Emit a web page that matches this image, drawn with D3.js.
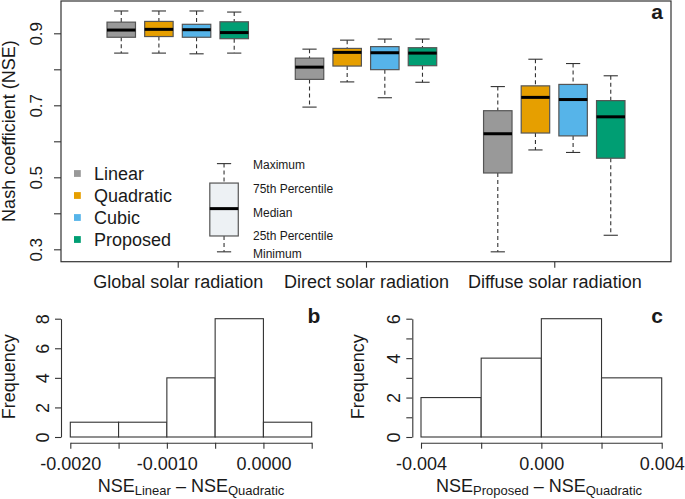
<!DOCTYPE html>
<html>
<head>
<meta charset="utf-8">
<script src="https://cdn.jsdelivr.net/npm/d3@7"></script>
<style>
  body { margin: 0; background: #fff; }
  svg text { font-family: "Liberation Sans", Arial, sans-serif; fill: #1a1a1a; }
</style>
</head>
<body>
<svg id="chart" width="685" height="499"></svg>
<script>
// ---- data ----
const groups = ["Global solar radiation", "Direct solar radiation", "Diffuse solar radiation"];
const methods = ["Linear", "Quadratic", "Cubic", "Proposed"];
// [min, q1, median, q3, max] per method
const globalStats = [
  [0.845, 0.889, 0.909, 0.931, 0.962],
  [0.845, 0.891, 0.911, 0.933, 0.962],
  [0.843, 0.889, 0.910, 0.925, 0.962],
  [0.845, 0.885, 0.902, 0.932, 0.959]
];
const directStats = [
  [0.695, 0.772, 0.806, 0.831, 0.856],
  [0.765, 0.809, 0.847, 0.858, 0.881],
  [0.721, 0.799, 0.846, 0.863, 0.884],
  [0.764, 0.810, 0.845, 0.860, 0.884]
];
const diffuseStats = [
  [0.293, 0.512, 0.621, 0.685, 0.752],
  [0.576, 0.623, 0.722, 0.754, 0.828],
  [0.569, 0.615, 0.716, 0.758, 0.816],
  [0.339, 0.553, 0.668, 0.713, 0.782]
];
const yTicksA = [0.3, 0.4, 0.5, 0.6, 0.7, 0.8, 0.9];
const yLabelsA = [0.3, 0.5, 0.7, 0.9];
const keyBoxStats = [0.293, 0.337, 0.413, 0.484, 0.538];
const keyLabels = ["Maximum", "75th Percentile", "Median", "25th Percentile", "Minimum"];

// histogram b : NSE_Linear - NSE_Quadratic
const edgesB = [-0.002, -0.0015, -0.001, -0.0005, 0, 0.0005];
const countsB = [1, 1, 4, 8, 1];
const xLabelsB = { "-0.002": "-0.0020", "-0.001": "-0.0010", "0": "0.0000" };
const yTicksB = [0, 2, 4, 6, 8];

// histogram c : NSE_Proposed - NSE_Quadratic
const edgesC = [-0.004, -0.002, 0, 0.002, 0.004];
const countsC = [2, 4, 6, 3];
const xLabelsC = { "-0.004": "-0.004", "0": "0.000", "0.004": "0.004" };
const yTicksC = [0, 1, 2, 3, 4, 5, 6];
const yLabelsC = [0, 2, 4, 6];

const colors = ["#999999", "#E69F00", "#56B4E9", "#009E73"];
const axisCol = "#333";

const svg = d3.select("#chart");

// ===== Panel a : boxplots =====
const xA = d3.scaleLinear().domain([-0.6, 15.6]).range([61, 671]);
const yA = d3.scaleLinear().domain([0.3, 0.9]).range([249.3, 33.3]);
const halfW = 0.378;

const allStats = [globalStats, directStats, diffuseStats];
let boxes = [];
allStats.forEach((g, gi) => {
  g.forEach((s, mi) => {
    boxes.push({ pos: gi * 5 + mi + 1, s: s, col: colors[mi] });
  });
});

function drawBox(sel, d, fill) {
  const cx = xA(d.pos);
  const x0 = xA(d.pos - halfW), x1 = xA(d.pos + halfW);
  const capW = (x1 - x0) / 4;
  // whiskers
  sel.append("line").attr("x1", cx).attr("x2", cx)
    .attr("y1", yA(d.s[4])).attr("y2", yA(d.s[3]))
    .attr("stroke", "#333").attr("stroke-width", 1.1).attr("stroke-dasharray", "4,3");
  sel.append("line").attr("x1", cx).attr("x2", cx)
    .attr("y1", yA(d.s[1])).attr("y2", yA(d.s[0]))
    .attr("stroke", "#333").attr("stroke-width", 1.1).attr("stroke-dasharray", "4,3");
  [d.s[0], d.s[4]].forEach(v => {
    sel.append("line").attr("x1", cx - capW).attr("x2", cx + capW)
      .attr("y1", yA(v)).attr("y2", yA(v))
      .attr("stroke", "#333").attr("stroke-width", 1.1);
  });
  sel.append("rect").attr("x", x0).attr("y", yA(d.s[3]))
    .attr("width", x1 - x0).attr("height", yA(d.s[1]) - yA(d.s[3]))
    .attr("fill", fill).attr("stroke", "#555").attr("stroke-width", 1.2);
  sel.append("line").attr("x1", x0).attr("x2", x1)
    .attr("y1", yA(d.s[2])).attr("y2", yA(d.s[2]))
    .attr("stroke", "#000").attr("stroke-width", 3);
}

const boxG = svg.append("g");
boxes.forEach(d => drawBox(boxG.append("g"), d, d.col));

// frame
svg.append("rect").attr("x", 61).attr("y", 1).attr("width", 610).attr("height", 260.7)
  .attr("fill", "none").attr("stroke", axisCol).attr("stroke-width", 1.2);

// y axis
const yAxisA = svg.append("g").attr("transform", "translate(61,0)")
  .call(d3.axisLeft(yA).tickValues(yTicksA).tickSize(7)
    .tickFormat(d => yLabelsA.some(v => Math.abs(v - d) < 1e-9) ? d3.format(".1f")(d) : ""));
yAxisA.select(".domain").remove();
yAxisA.selectAll("line").attr("stroke", axisCol).attr("stroke-width", 1.1);
yAxisA.selectAll("text")
  .attr("x", null).attr("dy", null)
  .attr("text-anchor", "middle")
  .attr("transform", "translate(-19,0) rotate(-90)")
  .style("font-size", "17px");

svg.append("text").attr("transform", "translate(15,131) rotate(-90)")
  .attr("text-anchor", "middle").style("font-size", "18px")
  .text("Nash coefficient (NSE)");

// x axis
const xAxisA = svg.append("g").attr("transform", "translate(0,261.7)")
  .call(d3.axisBottom(xA).tickValues([2.5, 7.5, 12.5]).tickSize(6).tickPadding(7.5)
    .tickFormat((d, i) => groups[i]));
xAxisA.select(".domain").remove();
xAxisA.selectAll("line").attr("stroke", axisCol).attr("stroke-width", 1.1);
xAxisA.selectAll("text").style("font-size", "18px");

// panel label
svg.append("text").attr("x", 657).attr("y", 19).attr("text-anchor", "middle")
  .style("font-size", "21px").style("font-weight", "bold").text("a");

// legend
const legY = [173.5, 195.5, 217.5, 239.5];
methods.forEach((m, i) => {
  svg.append("rect").attr("x", 74).attr("y", legY[i] - 3.4)
    .attr("width", 6.8).attr("height", 6.8).attr("fill", colors[i]);
  svg.append("text").attr("x", 94).attr("y", legY[i] + 6.5)
    .style("font-size", "18px").text(m);
});

// key box
drawBox(svg.append("g"), { pos: 3.73, s: keyBoxStats }, "#edf1f4");
const keyY = [165, 189, 212.3, 236, 254];
keyLabels.forEach((t, i) => {
  svg.append("text").attr("x", 253).attr("y", keyY[i] + 4.3)
    .style("font-size", "12px").text(t);
});

// ===== histograms =====
function hist(edges, counts, xs, ys, yTicks, yLabs, xLabs, axisX, label, labX, subA, subB, titleX, freqX) {
  const g = svg.append("g");
  const bins = counts.map((c, i) => ({ x0: edges[i], x1: edges[i + 1], n: c }));
  g.selectAll("rect").data(bins).enter().append("rect")
    .attr("x", d => xs(d.x0)).attr("width", d => xs(d.x1) - xs(d.x0))
    .attr("y", d => ys(d.n)).attr("height", d => ys(0) - ys(d.n))
    .attr("fill", "#fff").attr("stroke", "#333").attr("stroke-width", 1.1);

  const xa = g.append("g").attr("transform", "translate(0,442.7)")
    .call(d3.axisBottom(xs).tickValues(edges).tickSize(6).tickSizeOuter(0).tickPadding(8.5)
      .tickFormat(d => xLabs[String(+d.toFixed(6))] || ""));
  xa.select(".domain").attr("stroke", axisCol).attr("stroke-width", 1.1);
  xa.selectAll("line").attr("stroke", axisCol).attr("stroke-width", 1.1);
  xa.selectAll("text").style("font-size", "18px");

  const ya = g.append("g").attr("transform", `translate(${axisX},0)`)
    .call(d3.axisLeft(ys).tickValues(yTicks).tickSize(6).tickSizeOuter(0)
      .tickFormat(d => yLabs.includes(d) ? String(d) : ""));
  ya.select(".domain").attr("stroke", axisCol).attr("stroke-width", 1.1);
  ya.selectAll("line").attr("stroke", axisCol).attr("stroke-width", 1.1);
  ya.selectAll("text")
    .attr("x", null).attr("dy", null)
    .attr("text-anchor", "middle")
    .attr("transform", "translate(-12,0) rotate(-90)")
    .style("font-size", "18px");

  g.append("text").attr("transform", `translate(${freqX},376.7) rotate(-90)`)
    .attr("text-anchor", "middle").style("font-size", "18px").text("Frequency");

  const t = g.append("text").attr("x", titleX).attr("y", 491.5)
    .attr("text-anchor", "middle").style("font-size", "18px");
  t.append("tspan").text("NSE");
  t.append("tspan").attr("dy", 3).style("font-size", "13px").text(subA);
  t.append("tspan").attr("dy", -3).text(" \u2013 NSE");
  t.append("tspan").attr("dy", 3).style("font-size", "13px").text(subB);

  g.append("text").attr("x", labX).attr("y", 323).attr("text-anchor", "middle")
    .style("font-size", "21px").style("font-weight", "bold").text(label);
}

const xB = d3.scaleLinear().domain([-0.002, 0.0005]).range([70.3, 311.7]);
const yB = d3.scaleLinear().domain([0, 8]).range([437, 318.7]);
hist(edgesB, countsB, xB, yB, yTicksB, yTicksB, xLabelsB, 61, "b", 314, "Linear", "Quadratic", 191, 15);

const xC = d3.scaleLinear().domain([-0.004, 0.004]).range([421, 661.7]);
const yC = d3.scaleLinear().domain([0, 6]).range([437, 318.7]);
hist(edgesC, countsC, xC, yC, yTicksC, yLabelsC, xLabelsC, 412.3, "c", 657, "Proposed", "Quadratic", 539, 364);
</script>
</body>
</html>
